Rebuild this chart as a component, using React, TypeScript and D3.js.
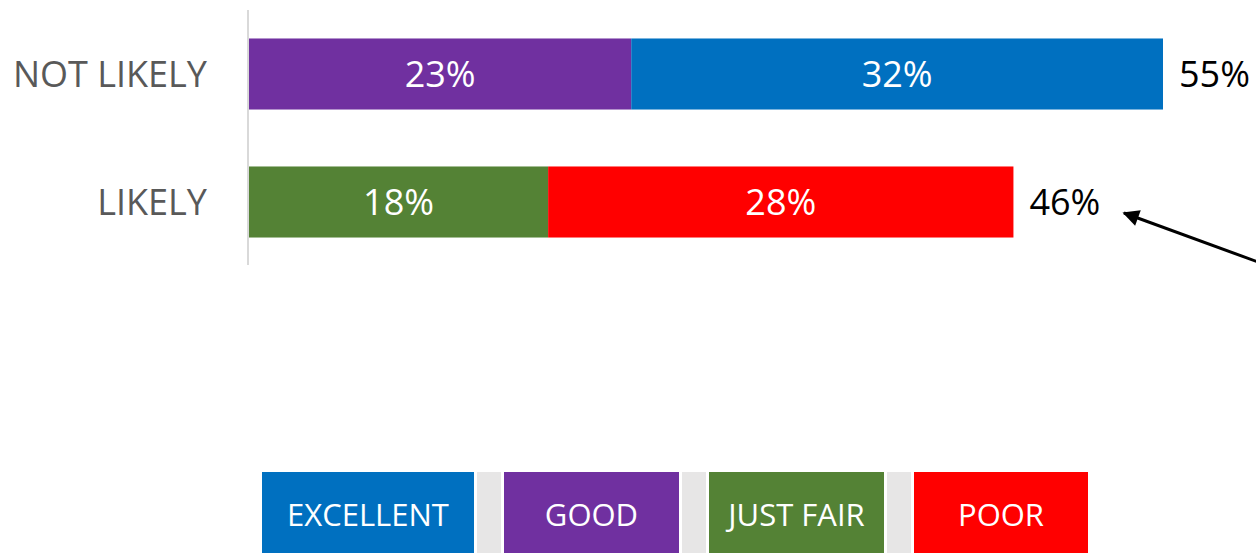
import React from "react";
import * as d3 from "d3";

const categories = ["NOT LIKELY", "LIKELY"];
const seriesNames = ["GOOD", "EXCELLENT", "JUST FAIR", "POOR"];
const goodValues = [23, 0];
const excellentValues = [32, 0];
const justFairValues = [0, 18];
const poorValues = [0, 28];
const totalLabels = ["55%", "46%"];
const legendNames = ["EXCELLENT", "GOOD", "JUST FAIR", "POOR"];

const colors: Record<string, string> = {
  EXCELLENT: "#0070c0",
  GOOD: "#7030a0",
  "JUST FAIR": "#548235",
  POOR: "#ff0000",
};

const W = 1256;
const H = 553;
const FONT = "'Open Sans', sans-serif";

export default function App() {
  const rows = categories.map((c, i) => ({
    category: c,
    GOOD: goodValues[i],
    EXCELLENT: excellentValues[i],
    "JUST FAIR": justFairValues[i],
    POOR: poorValues[i],
  }));
  const stack = d3.stack<any>().keys(seriesNames)(rows);
  const x = d3.scaleLinear().domain([0, 55]).range([249, 1163]);
  const y = d3
    .scaleBand<string>()
    .domain(categories)
    .range([10, 266])
    .paddingInner(0.445)
    .paddingOuter(0.2225);
  const bw = y.bandwidth();

  const legendRects = [
    { name: legendNames[0], x0: 262, x1: 474 },
    { name: legendNames[1], x0: 504, x1: 679 },
    { name: legendNames[2], x0: 709, x1: 884 },
    { name: legendNames[3], x0: 914, x1: 1088 },
  ];

  return (
    <svg
      width={W}
      height={H}
      style={{ position: "absolute", left: 0, top: 0, display: "block", background: "#fff" }}
      fontFamily={FONT}
    >
      <defs>
        <marker id="ah" viewBox="0 0 10 10" refX="9" refY="5" markerWidth="6" markerHeight="5.5" orient="auto-start-reverse" markerUnits="strokeWidth">
          <path d="M0,0 L10,5 L0,10 z" fill="#000" />
        </marker>
      </defs>
      <line x1={248} x2={248} y1={10} y2={265} stroke="#d9d9d9" strokeWidth={2} />
      {stack.map((s) =>
        s.map((d, i) => {
          const v = d[1] - d[0];
          if (v <= 0) return null;
          const cat = categories[i];
          const x0 = x(d[0]);
          const x1 = x(d[1]);
          return (
            <g key={s.key + cat}>
              <rect x={x0} y={y(cat)} width={x1 - x0} height={bw} fill={colors[s.key]} />
              <text
                x={(x0 + x1) / 2}
                y={(y(cat) as number) + bw / 2}
                dy="0.35em"
                textAnchor="middle"
                fill="#fff"
                fontSize={36}
              >
                {v}%
              </text>
            </g>
          );
        })
      )}
      {categories.map((c) => (
        <text key={c} x={207} y={(y(c) as number) + bw / 2} dy="0.35em" textAnchor="end" fill="#595959" fontSize={36}>
          {c}
        </text>
      ))}
      {categories.map((c, i) => {
        const tot = goodValues[i] + excellentValues[i] + justFairValues[i] + poorValues[i];
        return (
          <text key={c + "t"} x={x(tot) + 16} y={(y(c) as number) + bw / 2} dy="0.35em" fill="#000" fontSize={36}>
            {totalLabels[i]}
          </text>
        );
      })}
      <line x1={1258} y1={262} x2={1124} y2={213} stroke="#000" strokeWidth={3} markerEnd="url(#ah)" />
      {[477, 682, 887].map((gx) => (
        <rect key={gx} x={gx} y={472} width={24} height={81} fill="#e7e6e6" />
      ))}
      {legendRects.map((l) => (
        <g key={l.name}>
          <rect x={l.x0} y={472} width={l.x1 - l.x0} height={81} fill={colors[l.name]} />
          <text x={(l.x0 + l.x1) / 2} y={515} dy="0.35em" textAnchor="middle" fill="#fff" fontSize={31}>
            {l.name}
          </text>
        </g>
      ))}
    </svg>
  );
}
